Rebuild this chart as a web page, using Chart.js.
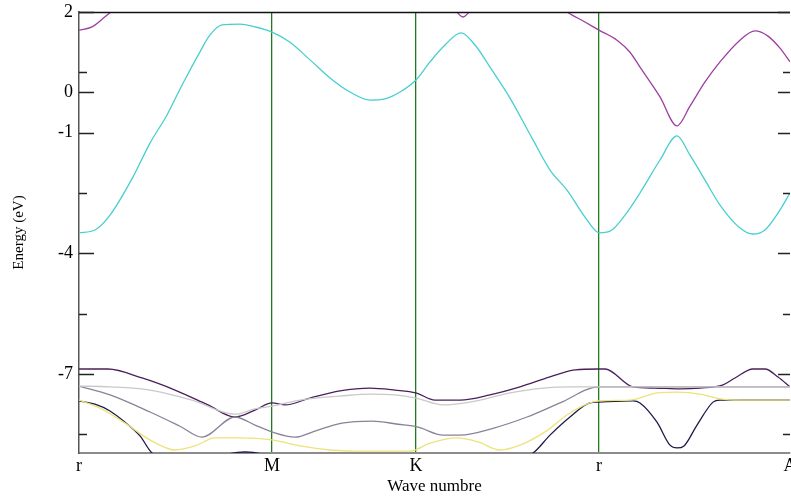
<!DOCTYPE html>
<html><head><meta charset="utf-8">
<script src="https://cdn.jsdelivr.net/npm/chart.js@4"></script>
<style>html,body{margin:0;padding:0;background:#fff}</style>
</head><body>
<canvas id="c" width="791" height="497"></canvas>
<script>
// ---- axes / labels ----
const kTicks  = [0, 1.93, 3.37, 5.20, 7.11];
const kLabels = ['r', 'M', 'K', 'r', 'A'];
const yMajor  = [2, 0, -1, -4, -7];
const yMinor  = [0.5, -2.5, -5.5, -8.5];
const yMin = -8.965, yMax = 2;

// ---- bands (k along path, energy in eV) ----
const cyanK = [0,0.16,0.31,0.54,0.71,0.88,1.04,1.21,1.31,1.43,1.61,1.76,1.93,2.11,2.31,2.51,2.71,2.91,3.06,3.21,3.37,3.51,3.66,3.82,3.96,4.11,4.31,4.54,4.71,4.88,5.08,5.20,5.31,5.46,5.61,5.81,5.98,6.11,6.26,6.41,6.61,6.74,6.86,6.99,7.11];
const cyanE = [-3.49,-3.42,-3.05,-2.10,-1.26,-0.56,0.23,1.01,1.43,1.68,1.70,1.63,1.50,1.25,0.81,0.36,0.01,-0.19,-0.16,0.01,0.31,0.76,1.18,1.48,1.18,0.63,-0.14,-1.18,-1.93,-2.43,-3.17,-3.49,-3.45,-3.05,-2.50,-1.68,-1.08,-1.56,-2.18,-2.80,-3.37,-3.52,-3.42,-3.00,-2.50];

const magK = [0,0.13,0.26,0.39,0.56,1.01,3.01,3.61,3.73,3.84,3.95,4.07,4.41,4.66,4.76,4.88,5.06,5.20,5.38,5.51,5.61,5.81,5.98,6.11,6.26,6.41,6.61,6.76,6.89,7.01,7.11];
const magE = [1.55,1.63,1.88,2.15,2.50,3.00,3.00,2.55,2.17,1.876,2.17,2.55,3.00,2.45,2.22,2.00,1.75,1.55,1.30,1.00,0.63,-0.11,-0.83,-0.34,0.26,0.76,1.30,1.53,1.40,1.10,0.76];

const purK = [0,0.29,0.63,0.96,1.29,1.56,1.76,1.93,2.06,2.31,2.61,2.91,3.16,3.37,3.56,3.81,4.11,4.41,4.71,4.96,5.20,5.26,5.54,5.76,6.01,6.21,6.44,6.56,6.74,6.86,6.99,7.11];
const purE = [-6.876,-6.876,-7.10,-7.40,-7.77,-8.07,-7.90,-7.72,-7.77,-7.60,-7.42,-7.35,-7.40,-7.47,-7.65,-7.65,-7.52,-7.32,-7.075,-6.90,-6.876,-6.876,-7.32,-7.35,-7.37,-7.35,-7.27,-7.10,-6.876,-6.876,-7.075,-7.32];

const silK = [0,0.31,0.71,1.13,1.56,1.76,1.93,2.21,2.61,2.91,3.16,3.37,3.64,3.91,4.31,4.64,4.91,5.20,7.11];
const silE = [-7.30,-7.32,-7.40,-7.65,-8.00,-7.87,-7.80,-7.65,-7.55,-7.50,-7.52,-7.60,-7.77,-7.70,-7.47,-7.35,-7.32,-7.32,-7.32];

const gryK = [0,0.31,0.71,1.01,1.23,1.56,1.76,1.93,2.16,2.36,2.63,2.93,3.19,3.39,3.64,3.81,4.14,4.48,4.81,5.20,7.11];
const gryE = [-7.30,-7.52,-7.945,-8.30,-8.57,-8.07,-8.27,-8.44,-8.57,-8.42,-8.22,-8.17,-8.25,-8.32,-8.52,-8.52,-8.35,-8.07,-7.72,-7.32,-7.32];

const yelK = [0,0.21,0.46,0.71,0.96,1.16,1.36,1.61,1.93,2.21,2.51,2.91,3.31,3.51,3.78,3.99,4.21,4.41,4.66,4.91,5.20,5.51,5.78,5.98,6.21,6.41,6.61,7.11];
const yelE = [-7.65,-7.85,-8.22,-8.64,-8.89,-8.79,-8.59,-8.59,-8.64,-8.79,-8.89,-8.92,-8.92,-8.72,-8.59,-8.69,-8.89,-8.77,-8.44,-7.97,-7.67,-7.65,-7.47,-7.45,-7.50,-7.62,-7.65,-7.65];

const navK = [0,0.16,0.31,0.46,0.61,0.73,1.11,1.49,1.66,1.83,2.21,3.21,4.01,4.54,4.71,4.91,5.11,5.20,5.54,5.61,5.78,5.91,5.98,6.05,6.18,6.34,6.41,7.11];
const navE = [-7.67,-7.75,-7.92,-8.20,-8.54,-8.965,-9.30,-8.99,-8.94,-8.99,-9.39,-9.64,-9.39,-8.965,-8.52,-8.07,-7.72,-7.70,-7.67,-7.72,-8.20,-8.77,-8.84,-8.79,-8.27,-7.70,-7.65,-7.65];

const pts = (K, E) => K.map((k, i) => ({x: k, y: E[i]}));
const band = (K, E, color) => ({
  data: pts(K, E), borderColor: color, borderWidth: 1.3,
  pointRadius: 0, showLine: true, fill: false,
  cubicInterpolationMode: 'monotone'
});

const SERIF = "'Liberation Serif', 'DejaVu Serif', serif";

const frame = {
  id: 'frame',
  afterDatasetsDraw(chart) {
    const {ctx, chartArea: a, scales: {y}} = chart;
    ctx.save();
    ctx.strokeStyle = '#111'; ctx.lineWidth = 1.5;
    ctx.beginPath(); ctx.moveTo(a.left, a.top + 0.5); ctx.lineTo(a.right, a.top + 0.5); ctx.stroke();
    ctx.strokeStyle = '#222'; ctx.lineWidth = 1.6;
    const all = yMajor.map(v => [v, true]).concat(yMinor.map(v => [v, false]));
    for (const [v, maj] of all) {
      const py = Math.round(y.getPixelForValue(v)) + 0.5;
      ctx.beginPath();
      ctx.moveTo(a.left, py); ctx.lineTo(a.left + (maj ? 15 : 8), py);
      ctx.moveTo(a.right, py); ctx.lineTo(a.right - (maj ? 12 : 7), py);
      ctx.stroke();
    }
    ctx.restore();
  }
};

new Chart(document.getElementById('c'), {
  type: 'scatter',
  data: {
    datasets: [
      band(silK, silE, '#c9c9c9'),
      band(gryK, gryE, '#8a8298'),
      band(yelK, yelE, '#eee27a'),
      band(navK, navE, '#1c1c4a'),
      band(purK, purE, '#4a1f5a'),
      band(cyanK, cyanE, '#48cfcf'),
      band(magK, magE, '#9c3fa0')
    ]
  },
  options: {
    responsive: false,
    animation: false,
    layout: {padding: {top: 12, right: 1, left: 0, bottom: 0}},
    plugins: {legend: {display: false}, tooltip: {enabled: false}},
    scales: {
      x: {
        type: 'linear', min: kTicks[0], max: kTicks[kTicks.length - 1],
        afterBuildTicks: s => { s.ticks = kTicks.map(v => ({value: v})); },
        afterFit: s => { s.height = 44; s.paddingLeft = 0; s.paddingRight = 0; },
        ticks: {
          autoSkip: false, maxRotation: 0, padding: 2, color: '#000',
          font: {family: SERIF, size: 18},
          callback: (v, i) => kLabels[i]
        },
        grid: {
          drawTicks: false, lineWidth: 1.3,
          color: c => (c.index === 0 || c.index === kTicks.length - 1) ? 'rgba(0,0,0,0)' : '#1e7b1e'
        },
        border: {display: true, color: '#8c8c8c', width: 2},
        title: {display: true, text: 'Wave numbre', color: '#000',
                font: {family: SERIF, size: 17}, padding: {top: 0, bottom: 0}}
      },
      y: {
        type: 'linear', min: yMin, max: yMax,
        afterBuildTicks: s => { s.ticks = yMajor.concat(yMinor).sort((a, b) => b - a).map(v => ({value: v})); },
        afterFit: s => { s.width = 79; s.paddingTop = 0; s.paddingBottom = 0; },
        ticks: {
          padding: 6, color: '#000',
          font: {family: SERIF, size: 18},
          callback: v => yMajor.includes(v) ? String(v) : ''
        },
        grid: {drawOnChartArea: false, drawTicks: false},
        border: {display: true, color: '#555', width: 1.5},
        title: {display: true, text: 'Energy (eV)', color: '#000',
                font: {family: SERIF, size: 15}, padding: {top: 10, bottom: 0}}
      }
    }
  },
  plugins: [frame]
});
</script>
</body></html>
